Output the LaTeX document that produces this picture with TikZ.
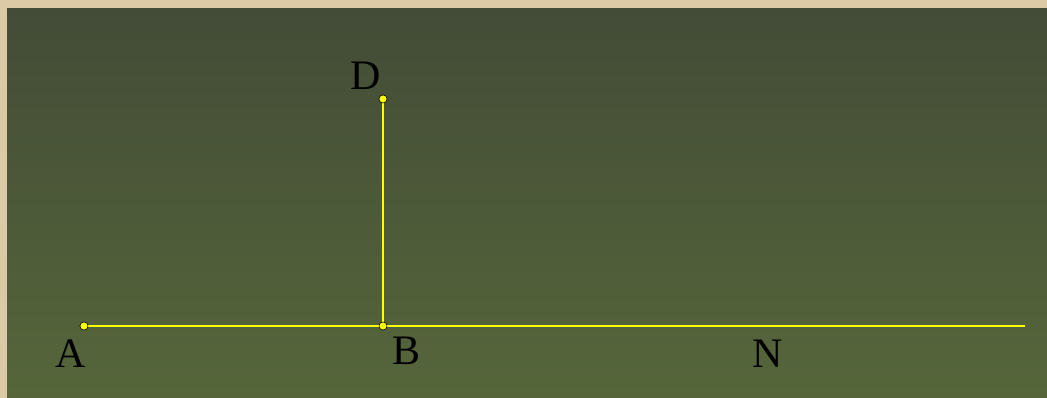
\documentclass[tikz,border=0pt]{standalone}
\usepackage{fontspec}
\setmainfont{Liberation Serif}
\usepackage{xcolor}
\usetikzlibrary{positioning}
\definecolor{frame}{HTML}{DCCAA6}
\definecolor{boardtop}{HTML}{434C37}
\definecolor{boardbot}{HTML}{56663A}
\definecolor{segyellow}{HTML}{FFFF00}
\begin{document}
\begin{tikzpicture}[x=1pt,y=1pt,
seg/.style={draw=segyellow,line width=1.8pt},
pt/.style={circle,draw=black,line width=0.5pt,fill=segyellow,minimum size=8pt,inner sep=0pt},
lbl/.style={inner sep=0pt,font=\fontsize{42}{42}\selectfont,text=black}]
\fill[frame] (0,0) rectangle (1047,398);
\shade[top color=boardtop,bottom color=boardbot] (7,0) rectangle (1047,389);
\useasboundingbox (0,0) rectangle (1047,398);
\coordinate (end) at (1025,72);
\node[pt] (a) at (84,72) {};
\node[pt] (b) at (383,72) {};
\node[pt] (d) at (383,299) {};
\draw[seg] (a)--(b);
\draw[seg] (b)--(end);
\draw[seg] (b)--(d);
\node[pt] at (a) {};
\node[pt] at (b) {};
\node[pt] at (d) {};
\node[lbl] (la) at (71,44.5) {A};
\node[lbl] (lb) at (406.5,47) {B};
\node[lbl] (ln) at (768,44.5) {N};
\node[lbl] (ld) at (365.5,322) {D};
\end{tikzpicture}
\end{document}
